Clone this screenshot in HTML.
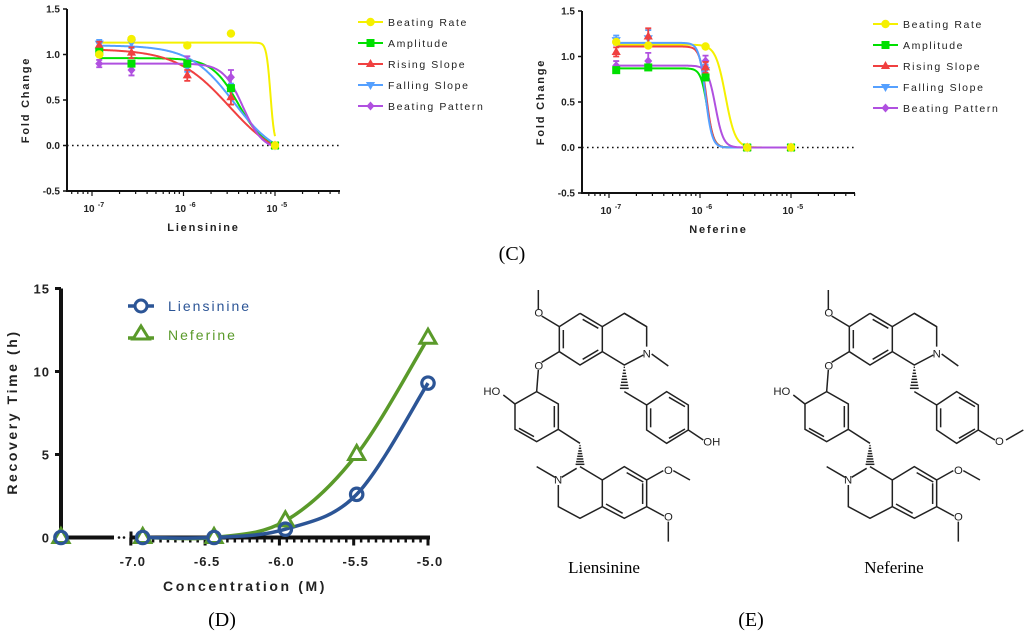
<!DOCTYPE html>
<html><head><meta charset="utf-8"><style>
body{margin:0;background:#fff;width:1024px;height:635px;overflow:hidden}
svg{display:block}
text{font-family:"Liberation Sans",sans-serif}
.t{font-weight:bold;fill:#222}
.lg{font-size:10.5px;letter-spacing:1.6px;fill:#222}
.ser{font-family:"Liberation Serif",serif}
</style></head><body>
<svg id="svg" width="1024" height="635" viewBox="0 0 1024 635">
<g id="panelA"></g>
<g id="panelB"></g>
<g id="panelD"></g>
<text x="512" y="260" text-anchor="middle" class="ser" font-size="20">(C)</text>
<text x="222" y="626" text-anchor="middle" class="ser" font-size="20">(D)</text>
<text x="751" y="626" text-anchor="middle" class="ser" font-size="20">(E)</text>
<g id="molL" transform="translate(470,280) scale(0.3333)" stroke="#222" stroke-width="4.5" fill="none"></g>
<g id="molN" transform="translate(760,280) scale(0.3333)" stroke="#222" stroke-width="4.5" fill="none"></g>
<text x="604" y="573" text-anchor="middle" class="ser" font-size="17">Liensinine</text>
<text x="894" y="573" text-anchor="middle" class="ser" font-size="17">Neferine</text>
</svg>
<script>
const NS="http://www.w3.org/2000/svg";
function mk(p,tag,at,txt){const e=document.createElementNS(NS,tag);for(const k in at)e.setAttribute(k,at[k]);if(txt!==undefined)e.textContent=txt;p.appendChild(e);return e;}

// ---- Panel A/B data ----
const seriesNames=["Beating Rate","Amplitude","Rising Slope","Falling Slope","Beating Pattern"];
const seriesColors=["#f5f000","#00e000","#f04040","#55a0ff","#b050e0"];
const concA=[1.2e-7,2.7e-7,1.1e-6,3.3e-6,1e-5];
const rateA=[1.0,1.17,1.1,1.23,0];
const ampA=[1.03,0.9,0.9,0.63,0];
const riseA=[1.1,1.02,0.77,0.53,0];
const fallA=[1.12,1.13,0.87,0.6,0];
const patA=[0.9,0.83,0.92,0.75,0];
const errA=[0.04,0.06,0.06,0.08,0];
const topA=[1.13,0.96,1.06,1.1,0.9];
const bottomA=[0,-0.05,-0.2,-0.15,-0.05];
const logEC50A=[-5.05,-5.4,-5.5,-5.45,-5.35];
const hillA=[20,3,1.5,1.8,4];
const concB=[1.2e-7,2.7e-7,1.15e-6,3.3e-6,1e-5];
const rateB=[1.16,1.12,1.11,0,0];
const ampB=[0.85,0.88,0.77,0,0];
const riseB=[1.05,1.22,0.88,0,0];
const fallB=[1.18,1.2,0.85,0,0];
const patB=[0.9,0.95,0.95,0,0];
const errB=[0.05,0.09,0.06,0,0];
const topB=[1.13,0.87,1.11,1.15,0.9];
const bottomB=[0,0,0,0,0];
const logEC50B=[-5.72,-5.92,-5.93,-5.94,-5.83];
const hillB=[8,12,12,12,10];
const yTicksAB=["-0.5","0.0","0.5","1.0","1.5"];
const xTickExp=["-7","-6","-5"];

function marker(g,k,x,y,c){
  let e;
  if(k===0)e=mk(g,"circle",{cx:x,cy:y,r:4.2,fill:c});
  else if(k===1)e=mk(g,"rect",{x:x-4,y:y-4,width:8,height:8,fill:c});
  else if(k===2)e=mk(g,"polygon",{points:`${x},${y-5} ${x+4.6},${y+3} ${x-4.6},${y+3}`,fill:c});
  else if(k===3)e=mk(g,"polygon",{points:`${x},${y+5} ${x+4.6},${y-3} ${x-4.6},${y-3}`,fill:c});
  else e=mk(g,"polygon",{points:`${x},${y-4.5} ${x+4},${y} ${x},${y+4.5} ${x-4},${y}`,fill:c});
  
  
}

function doseChart(gid,o,conc,vals,err,tops,bots,ecs,hills,xlabel){
  const g=document.getElementById(gid);
  const X=v=>o.x7+(Math.log10(v)+7)*o.dec;
  const Y=v=>o.y0-v*o.half*2;
  let a=mk(g,"line",{x1:o.ax,y1:Y(1.5),x2:o.ax,y2:Y(-0.5)+1,stroke:"#111","stroke-width":2});
  
  a=mk(g,"line",{x1:o.ax,y1:Y(-0.5),x2:o.xend,y2:Y(-0.5),stroke:"#111","stroke-width":2});
  
  yTicksAB.forEach(t=>{const v=parseFloat(t);
    mk(g,"line",{x1:o.ax-4,y1:Y(v),x2:o.ax,y2:Y(v),stroke:"#111","stroke-width":1.5});
    const e=mk(g,"text",{x:o.ax-7,y:Y(v)+3.5,"text-anchor":"end",class:"t",style:"font-size:10px"},t);
    });
  for(let d=-8;d<=-5;d++)for(let m=1;m<10;m++){const x=o.x7+(d+7+Math.log10(m))*o.dec;
    if(x<o.ax+3||x>o.xend)continue;
    mk(g,"line",{x1:x,y1:Y(-0.5),x2:x,y2:Y(-0.5)+(m===1?5:3),stroke:"#111","stroke-width":1.2});}
  xTickExp.forEach(t=>{const x=X(Math.pow(10,+t));
    const e=mk(g,"text",{x:x-3,y:Y(-0.5)+21,"text-anchor":"middle",class:"t",style:"font-size:10px"},"10");
    
    mk(g,"text",{x:x+9,y:Y(-0.5)+16,"text-anchor":"middle",class:"t",style:"font-size:7px"},t);});
  a=mk(g,"text",{x:(o.ax+o.xend)/2,y:Y(-0.5)+40,"text-anchor":"middle",class:"t",style:"font-size:11px;letter-spacing:1.8px"},xlabel);
  
  a=mk(g,"text",{x:0,y:0,transform:`translate(${o.ax-38},${Y(0.5)}) rotate(-90)`,"text-anchor":"middle",class:"t",style:"font-size:11px;letter-spacing:1.8px"},"Fold Change");
  
  a=mk(g,"line",{x1:o.ax,y1:Y(0),x2:o.xend,y2:Y(0),stroke:"#111","stroke-width":1.6,"stroke-dasharray":"1.6 3.4"});
  
  [0,1,2,3,4].forEach(k=>{
    let d="";for(let i=0;i<=200;i++){const lx=Math.log10(conc[0])+(Math.log10(conc[4])-Math.log10(conc[0]))*i/200;
      let yv=bots[k]+(tops[k]-bots[k])/(1+Math.pow(10,(lx-ecs[k])*hills[k]));
      yv=Math.max(yv,0);
      d+=(i?"L":"M")+X(Math.pow(10,lx)).toFixed(2)+","+Y(yv).toFixed(2);}
    const p=mk(g,"path",{d:d,fill:"none",stroke:seriesColors[k],"stroke-width":2});
    
    });
  [4,3,2,1,0].forEach(k=>{vals[k].forEach((v,i)=>{const x=X(conc[i]),y=Y(v);
    if(k>=2&&err[i]>0){const e=err[i];mk(g,"path",{d:`M${x},${Y(v+e)}V${Y(v-e)}M${x-3},${Y(v+e)}H${x+3}M${x-3},${Y(v-e)}H${x+3}`,stroke:seriesColors[k],"stroke-width":1.8,fill:"none"});}
    marker(g,k,x,y,seriesColors[k]);});});
  seriesNames.forEach((n,k)=>{const y=o.ly+k*21;
    const l=mk(g,"line",{x1:o.lx,y1:y,x2:o.lx+25,y2:y,stroke:seriesColors[k],"stroke-width":2});
    
    marker(g,k,o.lx+12.5,y,seriesColors[k]);
    const t=mk(g,"text",{x:o.lx+30,y:y+4,class:"lg"},n);
    });
}
doseChart("panelA",{ax:67,xend:340,x7:92,dec:91.5,y0:145.5,half:45.5,lx:358,ly:22},concA,[rateA,ampA,riseA,fallA,patA],errA,topA,bottomA,logEC50A,hillA,"Liensinine");
doseChart("panelB",{ax:582,xend:855,x7:609,dec:91,y0:147.5,half:45.5,lx:873,ly:24},concB,[rateB,ampB,riseB,fallB,patB],errB,topB,bottomB,logEC50B,hillB,"Neferine");

// ---- Panel D ----
const logConc=[-7.47,-6.92,-6.44,-5.96,-5.48,-5.0];
const liensinineTime=[0,0,0,0.5,2.6,9.3];
const neferineTime=[0,0,0,1.0,5.0,12.0];
const xTicksD=["-7.0","-6.5","-6.0","-5.5","-5.0"];
const yTicksD=["0","5","10","15"];
(function(){
  const g=document.getElementById("panelD");
  const X=v=>428+(v+5)*148.6, Y=v=>537.5-v*16.6;
  let a=mk(g,"line",{x1:61,y1:Y(15),x2:61,y2:Y(0)+2,stroke:"#111","stroke-width":4});
  
  a=mk(g,"line",{x1:59,y1:Y(0),x2:114,y2:Y(0),stroke:"#111","stroke-width":4});
  
  mk(g,"circle",{cx:119,cy:Y(0),r:1.3,fill:"#111"});mk(g,"circle",{cx:124,cy:Y(0),r:1.3,fill:"#111"});
  a=mk(g,"line",{x1:130,y1:Y(0),x2:X(-5)+2,y2:Y(0),stroke:"#111","stroke-width":4});
  
  mk(g,"line",{x1:131,y1:Y(0)-6,x2:131,y2:Y(0)+6,stroke:"#111","stroke-width":3});
  for(let v=-7;v<=-5.001;v+=0.05){const x=X(v);mk(g,"line",{x1:x,y1:Y(0),x2:x,y2:Y(0)+(Math.abs(v*2-Math.round(v*2))<0.01?7:5),stroke:"#111","stroke-width":2.5});}
  xTicksD.forEach(t=>{const e=mk(g,"text",{x:X(+t)+2,y:566,"text-anchor":"middle",class:"t",style:"font-size:13px;letter-spacing:1px"},t);
    
    mk(g,"line",{x1:X(+t),y1:Y(0),x2:X(+t),y2:Y(0)+8,stroke:"#111","stroke-width":3});});
  yTicksD.forEach(t=>{mk(g,"line",{x1:55,y1:Y(+t),x2:61,y2:Y(+t),stroke:"#111","stroke-width":3});
    const e=mk(g,"text",{x:50,y:Y(+t)+5,"text-anchor":"end",class:"t",style:"font-size:13px;letter-spacing:1px"},t);
    });
  a=mk(g,"text",{x:245,y:591,"text-anchor":"middle",class:"t",style:"font-size:14px;letter-spacing:2.6px"},"Concentration (M)");
  
  a=mk(g,"text",{x:0,y:0,transform:"translate(17,412) rotate(-90)","text-anchor":"middle",class:"t",style:"font-size:14px;letter-spacing:2.6px"},"Recovery Time (h)");
  
  function smooth(ys){const P=logConc.slice(1).map((v,i)=>[X(v),Y(ys[i+1])]);
    let d=`M${P[0][0]},${P[0][1]}`;
    for(let i=0;i<P.length-1;i++){const p0=P[Math.max(0,i-1)],p1=P[i],p2=P[i+1],p3=P[Math.min(P.length-1,i+2)];
      d+=`C${p1[0]+(p2[0]-p0[0])/6},${p1[1]+(p2[1]-p0[1])/6} ${p2[0]-(p3[0]-p1[0])/6},${p2[1]-(p3[1]-p1[1])/6} ${p2[0]},${p2[1]}`;}
    return d;}
  const GR="#5a9a2a",BL="#2c5596";
  a=mk(g,"path",{d:smooth(neferineTime),fill:"none",stroke:GR,"stroke-width":3.5});
  
  a=mk(g,"path",{d:smooth(liensinineTime),fill:"none",stroke:BL,"stroke-width":3.5});
  
  neferineTime.forEach((v,i)=>{const x=X(logConc[i]),y=Y(v);
    const e=mk(g,"polygon",{points:`${x},${y-9} ${x+8},${y+5} ${x-8},${y+5}`,fill:"#fff",stroke:GR,"stroke-width":3});
    });
  liensinineTime.forEach((v,i)=>{const x=X(logConc[i]),y=Y(v);
    const e=mk(g,"circle",{cx:x,cy:y,r:6.2,fill:"none",stroke:BL,"stroke-width":3.2});
    });
  mk(g,"line",{x1:128,y1:306,x2:154,y2:306,stroke:BL,"stroke-width":3.5});
  mk(g,"circle",{cx:141,cy:306,r:6,fill:"#fff",stroke:BL,"stroke-width":3});
  a=mk(g,"text",{x:168,y:311,"font-size":"14","letter-spacing":"2",fill:BL},"Liensinine");
  
  mk(g,"line",{x1:128,y1:338,x2:154,y2:338,stroke:GR,"stroke-width":3.5});
  mk(g,"polygon",{points:"141,326 149,339 133,339",fill:"#fff",stroke:GR,"stroke-width":3});
  a=mk(g,"text",{x:168,y:340,"font-size":"14","letter-spacing":"2",fill:GR},"Neferine");
  
})();

// ---- Structures ----
function mol(id,ome){
  const g=document.getElementById(id);
  const L=pts=>mk(g,"polyline",{points:pts});
  L("330,100 397,140 397,215 330,255 268,215 268,140 330,100");
  L("338,118 385,145");L("385,210 338,238");L("280,150 280,205");
  L("397,140 463,100 530,140 530,200");L("545,222 595,258");L("520,225 463,255 397,215");
  L("268,140 215,108");L("205,88 205,30");
  L("268,215 215,247");L("205,270 200,335");
  L("200,335 265,372 265,448 200,485 135,448 135,372 200,335");
  L("253,378 253,442");L("192,470 147,445");L("135,372 100,345");
  L("265,448 330,490");
  L("463,100 530,140");
  for(let i=0;i<8;i++){const y=262+i*9,w=2+i*1.6;L(`${463-w},${y} ${463+w},${y}`);}
  L("463,335 530,375");
  L("530,375 590,335 655,375 655,450 590,490 530,450 530,375");
  L("542,385 542,442");L("597,352 645,380");L("597,475 645,447");
  for(let i=0;i<8;i++){const y=497+i*8,w=2+i*1.6;L(`${330-w},${y} ${330+w},${y}`);}
  L("330,560 397,600");L("320,565 275,592");L("255,592 200,560");L("265,615 265,680 330,715 397,680");
  L("397,600 463,560 530,600 530,680 463,715 397,680 397,600");
  L("470,578 520,606");L("518,610 518,672");L("408,672 458,700");
  L("530,600 580,572");L("610,572 660,600");L("530,680 582,708");L("595,725 595,785");
  const T=(x,y,s)=>mk(g,"text",{x:x,y:y,"font-size":"34",fill:"#222",stroke:"none","font-family":"Liberation Sans"},s);
  T(193,110,"O");T(193,268,"O");T(40,345,"HO");T(518,232,"N");T(252,610,"N");T(582,582,"O");T(582,722,"O");
  if(ome){L("655,450 705,480");L("738,480 790,450");T(705,495,"O");}
  else{L("655,450 700,480");T(700,497,"OH");}
}
mol("molL",false);mol("molN",true);
</script>
</body></html>
